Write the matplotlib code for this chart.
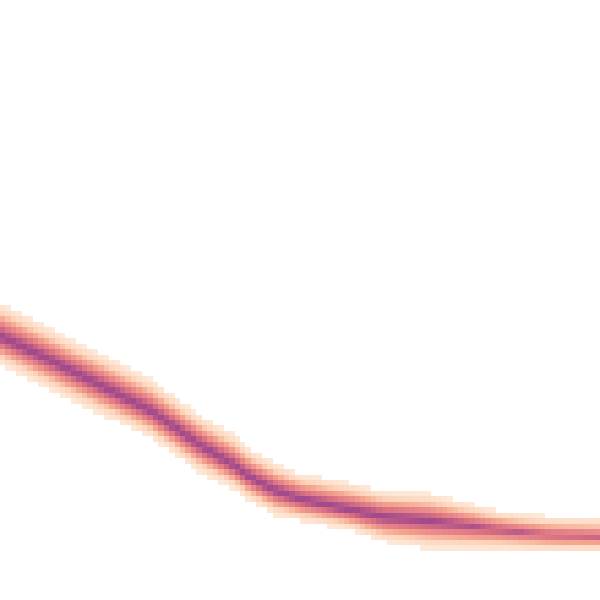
import numpy as np
import matplotlib.pyplot as plt
from matplotlib.colors import LinearSegmentedColormap

# trace centre line and spread (plot units 0..10)
x_pts = np.array([0, 50, 100, 130, 150, 200, 233, 250, 275, 300, 350, 383, 430, 500, 550, 600]) / 60
center = np.array([4.40, 4.00, 3.58, 3.33, 3.16, 2.58, 2.25, 2.05, 1.82, 1.68, 1.50, 1.39, 1.32, 1.17, 1.08, 1.05])
spread_up = np.array([37, 35, 35, 35, 35, 33, 34, 31, 31, 28, 30, 28, 30, 21, 21, 22]) / 60
spread_down = np.array([31, 33, 32, 30, 30, 30, 26, 27, 27, 24, 22, 28, 31, 23, 19, 17]) / 60
peak = np.array([1.0, 1.0, 1.0, 1.0, 1.0, 1.0, 1.0, 1.0, 1.0, 1.0, 1.0, 1.0, 0.95, 0.8, 0.72, 0.7])

nbins = 110
edges = np.linspace(0, 10, nbins + 1)
mids = (edges[:-1] + edges[1:]) / 2

c = np.interp(mids, x_pts, center)
up = np.interp(mids, x_pts, spread_up)
dn = np.interp(mids, x_pts, spread_down)
pk = np.interp(mids, x_pts, peak)

d = mids[:, None] - c[None, :]
w = np.where(d > 0, up[None, :], dn[None, :])
dens = pk[None, :] * np.clip(1 - np.abs(d) / w, 0, None) ** 1.8
dens = np.ma.masked_less(dens, 0.01)

cmap = LinearSegmentedColormap.from_list(
    "peach", ["#fee9d8", "#fcd3ba", "#f5a58e", "#e8878a", "#d77081", "#bb5a88", "#a24a8c"])

fig = plt.figure(figsize=(6, 6), dpi=100)
ax = fig.add_axes([0, 0, 1, 1])
ax.pcolormesh(edges, edges, dens, cmap=cmap, vmin=0.01, vmax=0.92)
ax.set_xlim(0, 10)
ax.set_ylim(0, 10)
ax.axis("off")
fig.savefig("out.png", dpi=100)
